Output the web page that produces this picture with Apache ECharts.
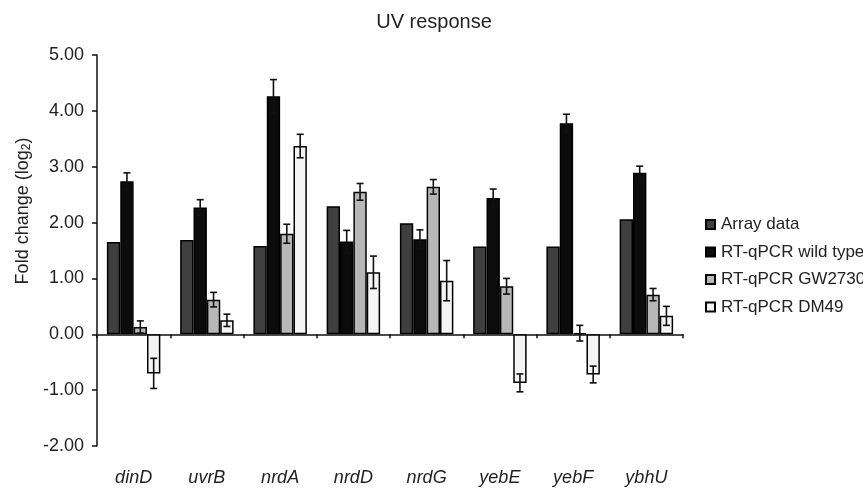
<!DOCTYPE html>
<html>
<head>
<meta charset="utf-8">
<script src="https://cdn.jsdelivr.net/npm/echarts@6/dist/echarts.min.js"></script>
<style>html,body{margin:0;padding:0;background:#fff}#c{width:863px;height:490px}</style>
</head>
<body>
<div id="c"></div>
<script>
const categories = ['dinD','uvrB','nrdA','nrdD','nrdG','yebE','yebF','ybhU'];
const seriesNames = ['Array data','RT-qPCR wild type','RT-qPCR GW2730','RT-qPCR DM49'];
const arrayData = [1.65,1.69,1.58,2.29,1.99,1.57,1.57,2.06];
const wildType  = [2.74,2.27,4.26,1.66,1.70,2.44,3.78,2.89];
const wildErr   = [0.15,0.14,0.30,0.20,0.17,0.16,0.16,0.12];
const gw2730    = [0.13,0.62,1.80,2.55,2.64,0.86,0.02,0.71];
const gwErr     = [0.11,0.13,0.17,0.15,0.13,0.14,0.14,0.11];
const dm49      = [-0.70,0.25,3.37,1.11,0.96,-0.87,-0.72,0.33];
const dmErr     = [0.27,0.11,0.21,0.29,0.36,0.16,0.15,0.17];
const yTicks    = [-2,-1,0,1,2,3,4,5];

const colors = ['#3f3f3f','#0c0c0c','#b7b7b7','#f4f4f4'];
const values = [arrayData, wildType, gw2730, dm49];
const errs = [null, wildErr, gwErr, dmErr];
const gapFrac = 0.27;

const chart = echarts.init(document.getElementById('c'), null, {renderer:'canvas'});

const series = [];
values.forEach((vals, i) => {
  series.push({
    name: seriesNames[i], type: 'bar', xAxisIndex: 0, data: vals,
    barGap: '0%', barCategoryGap: (gapFrac*100)+'%',
    itemStyle: {color: colors[i], borderColor: '#000', borderWidth: 1.5},
    emphasis: {disabled: true}
  });
});
errs.forEach((e, i) => {
  if (!e) return;
  series.push({
    type: 'custom', xAxisIndex: 0, z: 10, silent: true,
    data: values[i].map((v, k) => [k, v, e[k]]),
    encode: {x: 0, y: 1},
    renderItem: function (params, api) {
      const cat = api.value(0), v = api.value(1), er = api.value(2);
      const bandW = api.size([1, 0])[0];
      const barW = bandW * (1 - gapFrac) / 4;
      const x = api.coord([cat, v])[0] + (i - 1.5) * barW;
      const yt = api.coord([cat, v + er])[1];
      const yb = api.coord([cat, v - er])[1];
      const cap = 3.5;
      const st = {stroke: '#111', lineWidth: 1.6};
      return {type: 'group', children: [
        {type: 'line', shape: {x1: x, y1: yt, x2: x, y2: yb}, style: st},
        {type: 'line', shape: {x1: x - cap, y1: yt, x2: x + cap, y2: yt}, style: st},
        {type: 'line', shape: {x1: x - cap, y1: yb, x2: x + cap, y2: yb}, style: st}
      ]};
    }
  });
});

chart.setOption({
  animation: false,
  backgroundColor: '#fff',
  textStyle: {fontFamily: 'Liberation Sans, Arial, sans-serif'},
  title: {
    text: 'UV response', left: 429, top: 7, textAlign: 'center',
    textStyle: {fontSize: 20, fontWeight: 'normal', color: '#222', fontFamily: 'Liberation Sans, Arial, sans-serif'}
  },
  legend: {
    orient: 'vertical', left: 705, top: 216, padding: 0, itemWidth: 9, itemHeight: 9, itemGap: 10.5,
    data: seriesNames, icon: 'rect',
    textStyle: {fontSize: 17, color: '#222', padding: [0,0,0,1]},
    selectedMode: false
  },
  grid: {left: 97, right: 180, top: 55, bottom: 44},
  xAxis: [{
    type: 'category', data: categories,
    axisLine: {onZero: true, lineStyle: {color: '#111', width: 1.5}},
    axisTick: {show: true, length: 4, lineStyle: {color: '#111', width: 1.5}},
    axisLabel: {show: false}, splitLine: {show: false}
  }, {
    type: 'category', data: categories, position: 'bottom',
    axisLine: {show: false, onZero: false}, axisTick: {show: false},
    axisLabel: {show: true, fontSize: 18, fontStyle: 'italic', color: '#222', margin: 23},
    splitLine: {show: false}
  }],
  yAxis: {
    type: 'value', min: yTicks[0], max: yTicks[yTicks.length-1], interval: 1,
    axisLine: {show: true, lineStyle: {color: '#111', width: 1.5}},
    axisTick: {show: true, length: 5, lineStyle: {color: '#111', width: 1.5}},
    axisLabel: {fontSize: 18, color: '#222', margin: 13, formatter: v => v.toFixed(2)},
    splitLine: {show: false}
  },
  graphic: [{
    type: 'text', x: 23, y: 211, rotation: Math.PI/2,
    style: {
      text: '{a|Fold change (log}{b|2}{a|)}',
      align: 'center', verticalAlign: 'middle',
      rich: {
        a: {fontSize: 18, fill: '#222', fontFamily: 'Liberation Sans, Arial, sans-serif'},
        b: {fontSize: 12, fill: '#222', fontFamily: 'Liberation Sans, Arial, sans-serif', padding: [8,0,0,0]}
      }
    }
  }],
  series: series
});
</script>
</body>
</html>
